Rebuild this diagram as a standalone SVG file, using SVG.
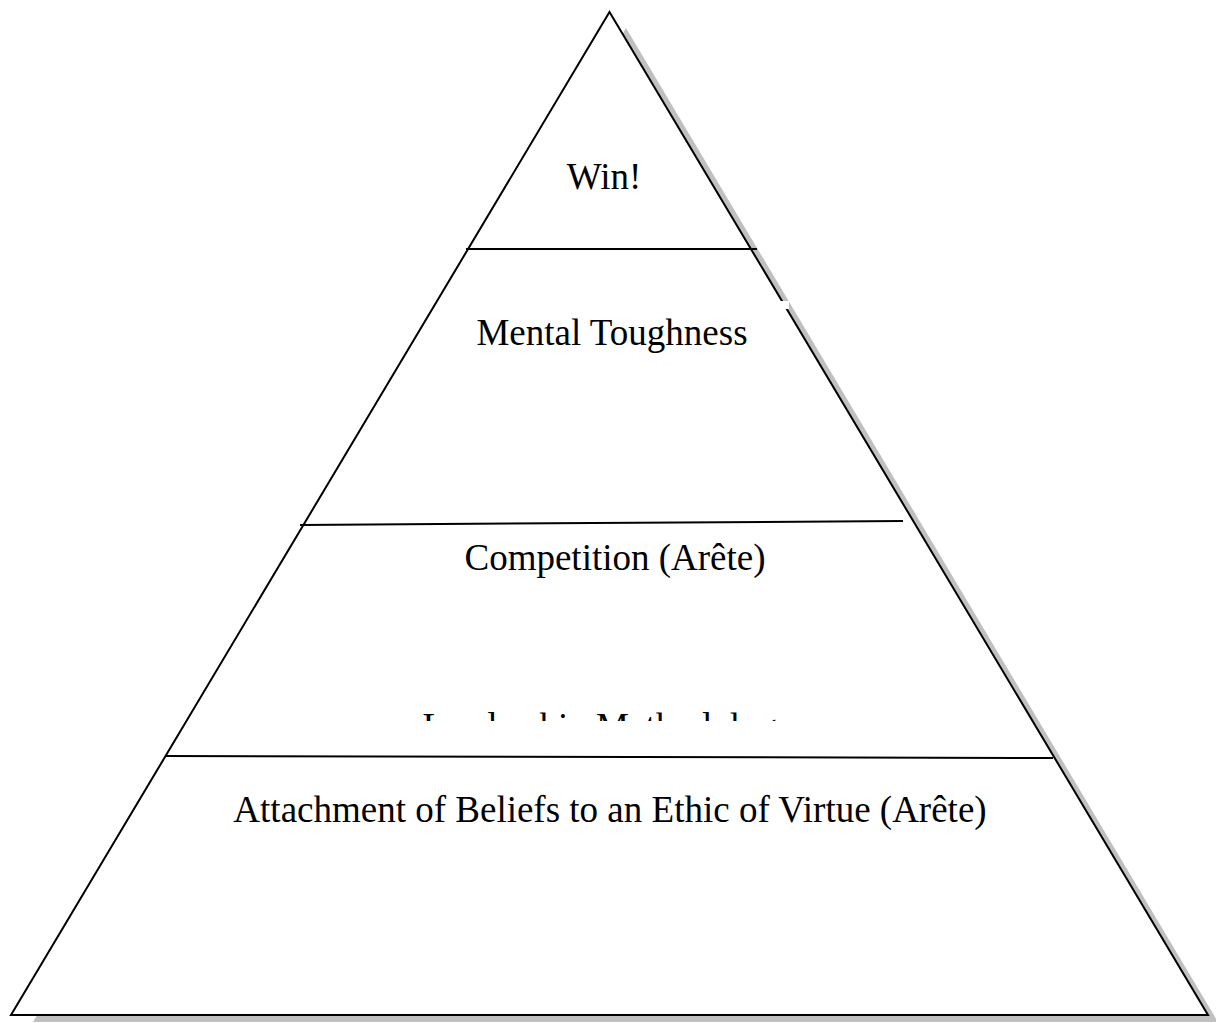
<svg xmlns="http://www.w3.org/2000/svg" width="1216" height="1023" viewBox="0 0 1216 1023">
<style>
.lbl{font-family:"Liberation Serif","Times New Roman",serif;font-size:37px;fill:#000;text-anchor:middle}
.ln{stroke:#000;stroke-width:2;fill:none}
</style>
<rect width="1216" height="1023" fill="#fff"/>
<g id="pyramid">
<polygon points="626,28 1218,1022 33,1022" fill="#c0c0c0"/>
<polygon points="609.5,12 1208,1015 11,1015" fill="#fff" stroke="#000" stroke-width="2" stroke-linejoin="miter"/>
<rect x="776" y="301" width="13" height="8" fill="#fff"/>
</g>
<g id="connectors">
<line class="ln" x1="466" y1="249" x2="757" y2="249"/>
<line class="ln" x1="300" y1="525" x2="903" y2="521"/>
<line class="ln" x1="165" y1="756" x2="1053" y2="758"/>
</g>
<g id="level-win"><text class="lbl" x="604" y="189">Win!</text></g>
<g id="level-mental"><text class="lbl" x="612" y="345">Mental Toughness</text></g>
<g id="level-competition"><text class="lbl" x="615" y="570">Competition (Arête)</text></g>
<g id="level-leadership">
<text class="lbl" x="609" y="739">Leadership Methodology</text>
<rect x="380" y="721" width="440" height="33" fill="#fff"/>
</g>
<g id="level-attachment"><text class="lbl" x="610" y="822">Attachment of Beliefs to an Ethic of Virtue (Arête)</text></g>
</svg>
